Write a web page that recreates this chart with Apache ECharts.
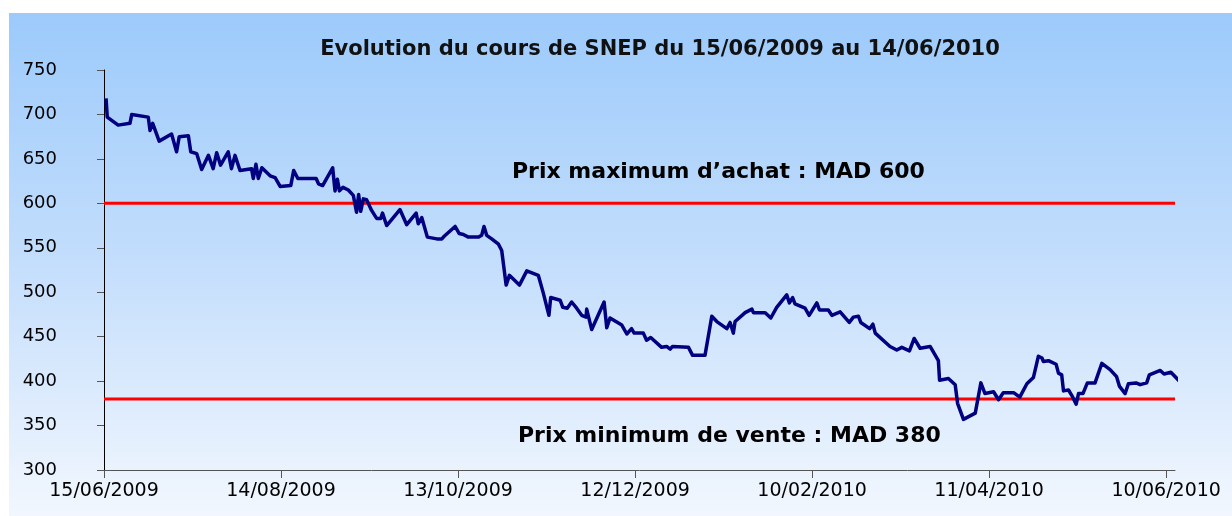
<!DOCTYPE html>
<html>
<head>
<meta charset="utf-8">
<script src="https://cdn.jsdelivr.net/npm/echarts@6.0.0/dist/echarts.min.js"></script>
<style>
  html, body { margin: 0; padding: 0; background: #fff; }
  #chart { width: 1232px; height: 516px; }
</style>
</head>
<body>
<div id="chart"></div>
<script>
// jours depuis le 15/06/2009 et cours de cloture
var startDate = Date.UTC(2009, 5, 15);
var tickDays = [0, 60, 120, 180, 240, 300, 360];
var yTicks = [300, 350, 400, 450, 500, 550, 600, 650, 700, 750];

var days = [0.7, 1.1, 4.8, 8.8, 9.4, 15, 15.6, 16.5, 18.7, 22.9, 24.6, 25.5, 28.6, 29.4, 31.4, 33.1, 35.4, 37, 38.2, 39.5,
  42.1, 43.2, 44.4, 46.1, 50, 50.6, 51.5, 52.3, 53.5, 56.3, 58, 59.7, 63.3, 64.3, 65.7, 71.9, 72.7, 74.1, 77.5, 78.3,
  79.1, 79.8, 81, 82.8, 84.5, 85.6, 86.3, 87, 87.9, 89, 90.7, 92.4, 93.8, 94.4, 95.8, 100.3, 102.6, 105.8, 106.5, 107.7,
  109.6, 112.8, 114.5, 115.3, 119, 120.4, 121.8, 123.5, 126.9, 128, 128.8, 129.7, 131.4, 133.7, 134.8, 136.3, 137.4, 140.8, 143.3, 147.2,
  148.9, 150.8, 151.4, 154.6, 155.5, 157, 158.5, 160.2, 161.9, 163.4, 163.6, 165.3, 169.5, 170.4, 171.5, 175.5, 177.2, 178.8, 179.7, 182.8,
  183.9, 185.3, 189, 190.7, 191.9, 192.7, 198.1, 199.5, 203.7, 206, 207.7, 211.1, 212.2, 213.3, 213.9, 217.3, 219.6, 220.1, 224.1, 226,
  228, 231.4, 232.3, 233.4, 234.2, 237.6, 239, 241.6, 242.5, 245.5, 246.7, 249.5, 252.6, 254, 255.7, 256.5, 259.5, 260.6, 261.4, 266.4,
  268.7, 270.4, 273, 274.6, 276.6, 280, 282.8, 283.2, 286.2, 288.5, 289.3, 291.3, 295.3, 297.2, 298.6, 301.5, 303.2, 304.8, 308.3, 310.4,
  312.8, 315, 316.7, 317.9, 318.4, 320.1, 322.7, 323.5, 324.6, 325.2, 326.9, 328, 329.5, 330.3, 331.8, 333.3, 335.9, 338.2, 341, 343.2,
  344.2, 346.1, 347.2, 349.8, 351.2, 353.4, 354.3, 358, 359.3, 361.6, 364.5];

var prices = [718, 697, 688, 690, 700, 697, 682, 690, 670, 678, 658, 675, 676, 658, 656, 638, 654, 639, 657, 643,
  658, 639, 654, 637, 639, 628, 644, 628, 640, 631, 629, 619, 620, 637, 628, 628, 622, 620, 640, 614,
  627, 614, 618, 615, 609, 590, 610, 591, 605, 604, 592, 583, 583, 589, 575, 593, 576, 589, 577, 584,
  562, 560, 560, 563, 574, 566, 565, 562, 562, 564, 574, 564, 560, 554, 547, 508, 519, 508, 524, 519,
  499, 474, 494, 491, 483, 482, 489, 482, 474, 472, 481, 458, 489, 460, 471, 463, 453, 459, 454, 454,
  446, 449, 438, 439, 436, 439, 438, 429, 429, 473, 467, 459, 466, 454, 467, 477, 481, 477, 477, 471,
  483, 497, 488, 494, 487, 482, 474, 488, 480, 480, 474, 478, 466, 472, 473, 466, 459, 464, 454, 439,
  435, 438, 434, 448, 437, 439, 423, 401, 403, 396, 375, 357, 364, 398, 386, 388, 379, 387, 387, 382,
  397, 404, 428, 426, 422, 423, 419, 409, 407, 389, 390, 384, 374, 386, 386, 398, 398, 420, 413, 405,
  394, 386, 397, 398, 396, 398, 407, 412, 408, 410, 400];

var refDays = [0, 363];
var maxBuyPrice = 600;
var minSellPrice = 380;

function pad(n) { return n < 10 ? '0' + n : '' + n; }
function dayLabel(d) {
  var dt = new Date(startDate + d * 86400000);
  return pad(dt.getUTCDate()) + '/' + pad(dt.getUTCMonth() + 1) + '/' + dt.getUTCFullYear();
}

var chart = echarts.init(document.getElementById('chart'));
var option = {
  backgroundColor: '#ffffff',
  animation: false,
  title: {
    text: 'Evolution du cours de SNEP du ' + dayLabel(0) + ' au ' + dayLabel(364),
    left: 655,
    textAlign: 'center',
    top: 34,
    textStyle: { fontFamily: 'DejaVu Sans', fontSize: 21, fontWeight: 'bold', color: '#111' }
  },
  graphic: [
    {
      type: 'rect', z: -10, silent: true,
      shape: { x: 9, y: 13, width: 1223, height: 503 },
      style: {
        fill: new echarts.graphic.LinearGradient(0, 0, 0, 1, [
          { offset: 0, color: '#9ccafb' },
          { offset: 0.5, color: '#c4defc' },
          { offset: 1, color: '#f2f7fe' }
        ])
      }
    },
    {
      type: 'text', left: 512, top: 161,
      style: { text: 'Prix maximum d\u2019achat : MAD ' + maxBuyPrice, fontFamily: 'DejaVu Sans', fontSize: 22, fontWeight: 'bold', fill: '#000' }
    },
    {
      type: 'text', left: 518, top: 425,
      style: { text: 'Prix minimum de vente : MAD ' + minSellPrice, fontFamily: 'DejaVu Sans', fontSize: 22, fontWeight: 'bold', fill: '#000' }
    }
  ],
  grid: { left: 104, right: 57, top: 70, bottom: 46 },
  xAxis: {
    type: 'value',
    min: 0,
    max: 363,
    interval: 60,
    axisLine: { show: true, lineStyle: { color: '#555', width: 1 } },
    axisTick: { show: true, length: 8, customValues: tickDays, lineStyle: { color: '#555' } },
    splitLine: { show: false },
    axisLabel: {
      customValues: tickDays,
      margin: 12,
      fontFamily: 'DejaVu Sans', fontSize: 19, color: '#000',
      formatter: function (v) { return dayLabel(v); }
    }
  },
  yAxis: {
    type: 'value',
    min: yTicks[0],
    max: yTicks[yTicks.length - 1],
    interval: 50,
    axisLine: { show: true, lineStyle: { color: '#000', width: 1 } },
    axisTick: { show: true, length: 7, lineStyle: { color: '#555' } },
    splitLine: { show: false },
    axisLabel: { margin: 47, fontFamily: 'DejaVu Sans', fontSize: 18, color: '#000' }
  },
  series: [
    {
      type: 'line',
      data: refDays.map(function (d) { return [d, maxBuyPrice]; }),
      symbol: 'none',
      lineStyle: { color: '#ff0000', width: 3 },
      z: 3
    },
    {
      type: 'line',
      data: refDays.map(function (d) { return [d, minSellPrice]; }),
      symbol: 'none',
      lineStyle: { color: '#ff0000', width: 3 },
      z: 3
    },
    {
      type: 'line',
      data: days.map(function (d, i) { return [d, prices[i]]; }),
      symbol: 'none',
      clip: false,
      lineStyle: { color: '#000080', width: 3.5, join: 'round' },
      z: 4
    }
  ]
};
chart.setOption(option);
</script>
</body>
</html>
